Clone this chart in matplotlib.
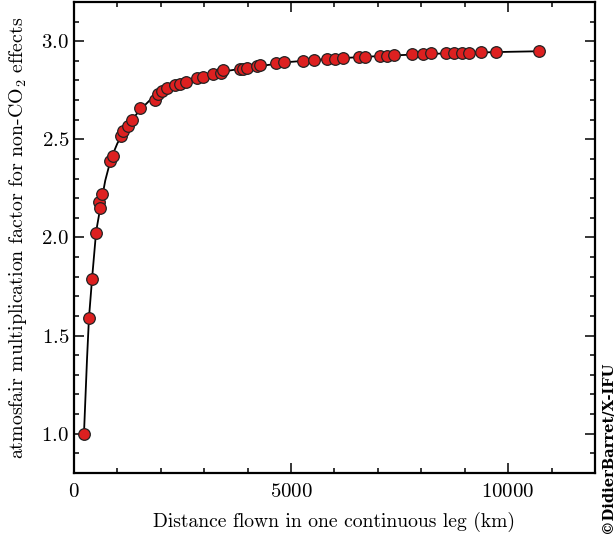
import matplotlib
matplotlib.use("Agg")
import matplotlib.pyplot as plt
from matplotlib.ticker import MultipleLocator

# points (distance in km, multiplication factor)
distance_km = [230, 345, 420, 505, 585, 600, 645, 830, 890, 1083, 1137, 1252, 1336,
               1521, 1866, 1943, 2020, 2135, 2327, 2442, 2580, 2827, 2965, 3210,
               3380, 3426, 3825, 3886, 3993, 4209, 4286, 4654, 4839, 5269, 5530,
               5837, 6014, 6190, 6575, 6705, 7051, 7219, 7373, 7781, 8048, 8219,
               8564, 8756, 8947, 9108, 9378, 9724, 10722]
factor = [1.00, 1.59, 1.79, 2.025, 2.18, 2.15, 2.22, 2.39, 2.416, 2.518, 2.543, 2.57,
          2.60, 2.66, 2.70, 2.73, 2.746, 2.76, 2.777, 2.78, 2.79, 2.814, 2.82, 2.834,
          2.84, 2.851, 2.856, 2.856, 2.864, 2.873, 2.878, 2.89, 2.895, 2.90, 2.904,
          2.91, 2.91, 2.915, 2.92, 2.92, 2.924, 2.927, 2.929, 2.934, 2.936, 2.938,
          2.941, 2.941, 2.941, 2.941, 2.946, 2.946, 2.949]

# smooth fitted curve as it appears in the reference
curve_km = [230, 300, 345, 420, 510, 620, 720, 850, 1000, 1250, 1500, 1750, 2000,
            2500, 3000, 3500, 4000, 5000, 6000, 7000, 8000, 9000, 10000, 10722]
curve_factor = [1.00, 1.38, 1.59, 1.80, 2.03, 2.17, 2.29, 2.40, 2.48, 2.575, 2.645,
                2.70, 2.735, 2.79, 2.825, 2.848, 2.865, 2.895, 2.912, 2.924, 2.934,
                2.941, 2.946, 2.949]

plt.rcParams['font.family'] = ['cmr10', 'DejaVu Serif']
plt.rcParams['mathtext.fontset'] = 'cm'
plt.rcParams['axes.formatter.use_mathtext'] = True
plt.rcParams['axes.unicode_minus'] = False

fig = plt.figure(figsize=(6.14, 5.35), dpi=100)
ax = fig.add_axes([0.1205, 0.1159, 0.8485, 0.8804])

ax.plot(curve_km, curve_factor, color='black', lw=1.3, zorder=2)
ax.scatter(distance_km, factor, s=70, color='#dd2020', edgecolors='#222222',
           linewidths=0.9, zorder=3)

ax.set_xlim(0, 12000)
ax.set_ylim(0.8, 3.2)
ax.xaxis.set_major_locator(MultipleLocator(5000))
ax.xaxis.set_minor_locator(MultipleLocator(1000))
ax.yaxis.set_major_locator(MultipleLocator(0.5))
ax.yaxis.set_minor_locator(MultipleLocator(0.1))
ax.tick_params(which='both', direction='in', top=True, right=True, width=1.1,
               labelsize=15)
ax.tick_params(which='major', length=7)
ax.tick_params(which='minor', length=3.5)
ax.tick_params(axis='x', which='major', pad=7)
for s in ax.spines.values():
    s.set_linewidth(1.6)

ax.set_xlabel('Distance flown in one continuous leg (km)', fontsize=14.1, labelpad=8)
ax.set_ylabel('atmosfair multiplication factor for non-CO$_2$ effects', fontsize=14.3,
              labelpad=9)

fig.text(0.989, 0.004, '\u00a9DidierBarret/X-IFU', rotation=90, ha='center', va='bottom',
         fontsize=10.5, family='DejaVu Serif', fontweight='bold')

fig.savefig('out.png', dpi=100)
